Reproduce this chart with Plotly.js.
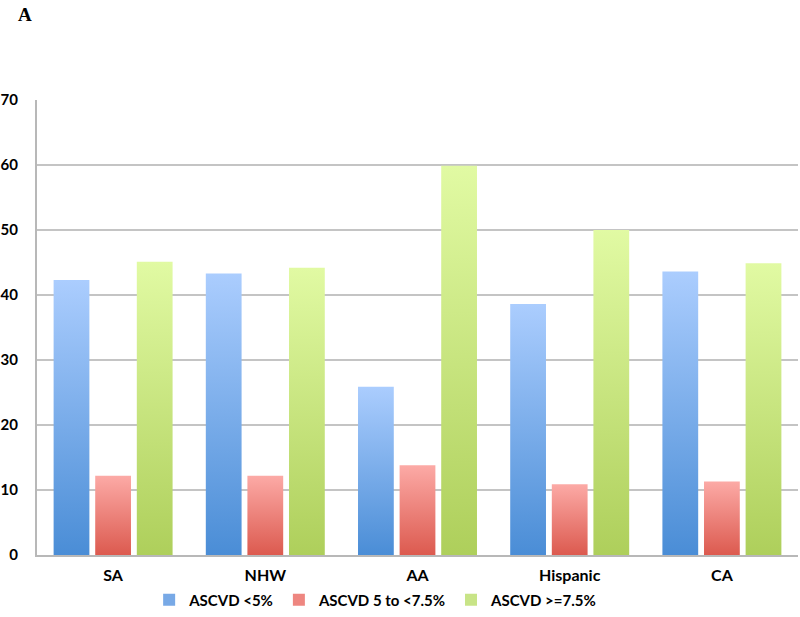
<!DOCTYPE html>
<html>
<head>
<meta charset="utf-8">
<script src="https://cdn.plot.ly/plotly-3.0.1.min.js"></script>
<style>html,body{margin:0;padding:0;background:#fff;}#chart{width:800px;height:617px;}</style>
</head>
<body>
<div id="chart"></div>
<script>
const categories = ["SA", "NHW", "AA", "Hispanic", "CA"];
const seriesNames = ["ASCVD <5%", "ASCVD 5 to <7.5%", "ASCVD >=7.5%"];
const lowRisk = [42.3, 43.3, 25.9, 38.6, 43.6];
const midRisk = [12.2, 12.2, 13.8, 10.9, 11.3];
const highRisk = [45.1, 44.2, 59.9, 50.0, 44.9];
const yTicks = [0, 10, 20, 30, 40, 50, 60, 70];

const solid = ["#78a9e6", "#ee8680", "#c8e487"];
const grads = [["#abcdfe", "#4a8dd6"], ["#fcaaa6", "#dc5a4f"], ["#e1faa3", "#aecf5b"]];
const series = [lowRisk, midRisk, highRisk];
const font = "Lato, 'Open Sans', sans-serif";

const data = series.map((vals, i) => ({
  type: "bar",
  name: seriesNames[i],
  x: categories,
  y: vals,
  marker: {color: solid[i], line: {width: 0}},
  hoverinfo: "y"
}));

const layout = {
  width: 800, height: 617,
  margin: {l: 37, r: 2, t: 100, b: 62, autoexpand: false},
  paper_bgcolor: "#fff", plot_bgcolor: "#fff",
  barmode: "group", bargap: 0.18, bargroupgap: 0.14,
  showlegend: true,
  legend: {orientation: "h", x: 0.445, xanchor: "center", y: -0.099, yanchor: "middle",
           font: {family: font, size: 15, color: "#000", weight: "bold"},
           itemwidth: 30, traceorder: "normal"},
  xaxis: {type: "category", showline: true, linecolor: "#b8b8b8", linewidth: 2,
          ticks: "", ticklabelstandoff: 5,
          tickfont: {family: font, size: 16, color: "#000", weight: "bold"},
          showgrid: false, fixedrange: true},
  yaxis: {range: [0, 70], tickvals: yTicks, ticktext: yTicks.map(String), showgrid: true,
          gridcolor: "#c4c4c4", gridwidth: 2, showline: true, linecolor: "#b8b8b8", linewidth: 2,
          ticks: "", ticklabelstandoff: 14, zeroline: false,
          tickfont: {family: font, size: 15, color: "#000", weight: "bold"}, fixedrange: true},
  annotations: [{text: "A", xref: "paper", yref: "paper", x: -0.028, xanchor: "left",
                 y: 1.216, yanchor: "top", showarrow: false,
                 font: {family: "'Liberation Serif', 'DejaVu Serif', serif", size: 19, color: "#000", weight: "bold"}}]
};

Plotly.newPlot("chart", data, layout, {displayModeBar: false, staticPlot: true}).then(gd => {
  const svg = gd.querySelector(".main-svg");
  const ns = "http://www.w3.org/2000/svg";
  let defs = svg.querySelector("defs");
  if (!defs) { defs = document.createElementNS(ns, "defs"); svg.insertBefore(defs, svg.firstChild); }
  grads.forEach((g, i) => {
    const lg = document.createElementNS(ns, "linearGradient");
    lg.setAttribute("id", "barGrad" + i);
    lg.setAttribute("x1", "0"); lg.setAttribute("y1", "0");
    lg.setAttribute("x2", "0"); lg.setAttribute("y2", "1");
    [[0, g[0]], [1, g[1]]].forEach(([o, c]) => {
      const st = document.createElementNS(ns, "stop");
      st.setAttribute("offset", o); st.setAttribute("stop-color", c);
      lg.appendChild(st);
    });
    defs.appendChild(lg);
  });
  gd.querySelectorAll(".barlayer .trace").forEach((tr, i) => {
    tr.querySelectorAll("path").forEach(p => { p.style.fill = "url(#barGrad" + i + ")"; });
  });
});
</script>
</body>
</html>
